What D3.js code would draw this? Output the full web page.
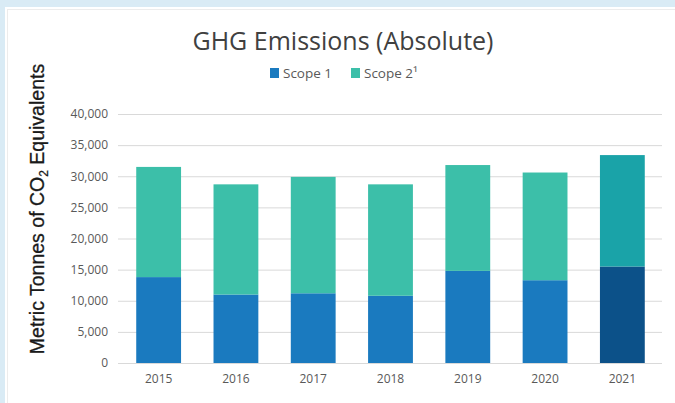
<!DOCTYPE html>
<html>
<head>
<meta charset="utf-8">
<script src="https://cdn.jsdelivr.net/npm/d3@7"></script>
<style>
    body { margin: 0; background: #d9ebf5; }
    svg { display: block; font-family: "Open Sans", "DejaVu Sans", sans-serif; }
</style>
</head>
<body>
<svg width="675" height="403"></svg>
<script>
    // values (tonnes CO2e)
    const years = ["2015", "2016", "2017", "2018", "2019", "2020", "2021"];
    const scope1 = [13800, 11000, 11200, 10800, 14800, 13300, 15500];
    const scope2 = [17700, 17700, 18700, 17900, 17000, 17300, 17900];
    const yTicks = [0, 5000, 10000, 15000, 20000, 25000, 30000, 35000, 40000];
    const seriesNames = ["Scope 1", "Scope 2¹"];

    const colors = ["#1a7abf", "#3cbfa9"];
    const lastColors = ["#0c5189", "#1aa3a8"];   // 2021 is drawn darker

    const rows = years.map((y, i) => ({ year: y, s1: scope1[i], s2: scope2[i] }));
    const stacked = d3.stack().keys(["s1", "s2"])(rows);

    const svg = d3.select("svg");

    // white panel
    svg.append("rect").attr("x", 5).attr("y", 7).attr("width", 670).attr("height", 396)
        .attr("fill", "#fff");
    svg.append("rect").attr("x", 7.5).attr("y", 9.5).attr("width", 680).attr("height", 400)
        .attr("fill", "none").attr("stroke", "#ececec");

    const x = d3.scaleBand().domain(years).range([120, 661]).paddingInner(0.42).paddingOuter(0.21);
    const y = d3.scaleLinear().domain([0, 40000]).range([363, 114]);

    // gridlines
    svg.append("g").selectAll("line").data(yTicks).join("line")
        .attr("x1", 118).attr("x2", 662)
        .attr("y1", d => y(d) + 0.5).attr("y2", d => y(d) + 0.5)
        .attr("stroke", "#d9d9d9").attr("stroke-width", 1);

    // bars
    svg.append("g").selectAll("g").data(stacked).join("g")
        .each(function(layer, k) {
            d3.select(this).selectAll("rect").data(layer).join("rect")
                .attr("x", d => x(d.data.year))
                .attr("width", x.bandwidth())
                .attr("y", d => y(d[1]))
                .attr("height", d => y(d[0]) - y(d[1]))
                .attr("fill", (d, i) => i === years.length - 1 ? lastColors[k] : colors[k]);
        });

    // y axis labels
    const yAxis = svg.append("g").attr("transform", "translate(108,0)")
        .call(d3.axisLeft(y).tickValues(yTicks).tickFormat(d3.format(",")).tickSize(0).tickPadding(0));
    yAxis.select(".domain").remove();
    yAxis.selectAll("text").attr("font-size", 12).attr("fill", "#595959")
        .attr("font-family", "'Open Sans', sans-serif");

    // x axis labels
    const xAxis = svg.append("g").attr("transform", "translate(0,374)")
        .call(d3.axisBottom(x).tickSize(0).tickPadding(0));
    xAxis.select(".domain").remove();
    xAxis.selectAll("text").attr("font-size", 12).attr("fill", "#595959")
        .attr("font-family", "'Open Sans', sans-serif");

    // title
    svg.append("text").attr("x", 343).attr("y", 50).attr("text-anchor", "middle")
        .attr("font-size", 25).attr("fill", "#404040").text("GHG Emissions (Absolute)");

    // legend
    const legendX = [270, 351];
    const legend = svg.append("g").selectAll("g").data(seriesNames).join("g")
        .attr("transform", (d, i) => `translate(${legendX[i]},68)`);
    legend.append("rect").attr("width", 9).attr("height", 10)
        .attr("fill", (d, i) => colors[i]);
    legend.append("text").attr("x", 13).attr("y", 10)
        .attr("font-size", 13.5).attr("fill", "#595959")
        .attr("font-family", "'Open Sans', sans-serif")
        .text(d => d);

    // y axis title
    svg.append("text")
        .attr("transform", "translate(44,209) rotate(-90)")
        .attr("text-anchor", "middle").attr("font-size", 19.5).attr("fill", "#1a1a1a")
        .attr("stroke", "#1a1a1a").attr("stroke-width", 0.3)
        .attr("font-family", "'Liberation Sans', Arial, sans-serif")
        .html('Metric Tonnes of CO<tspan font-size="12" dy="4">2</tspan><tspan dy="-4"> Equivalents</tspan>');
</script>
</body>
</html>
